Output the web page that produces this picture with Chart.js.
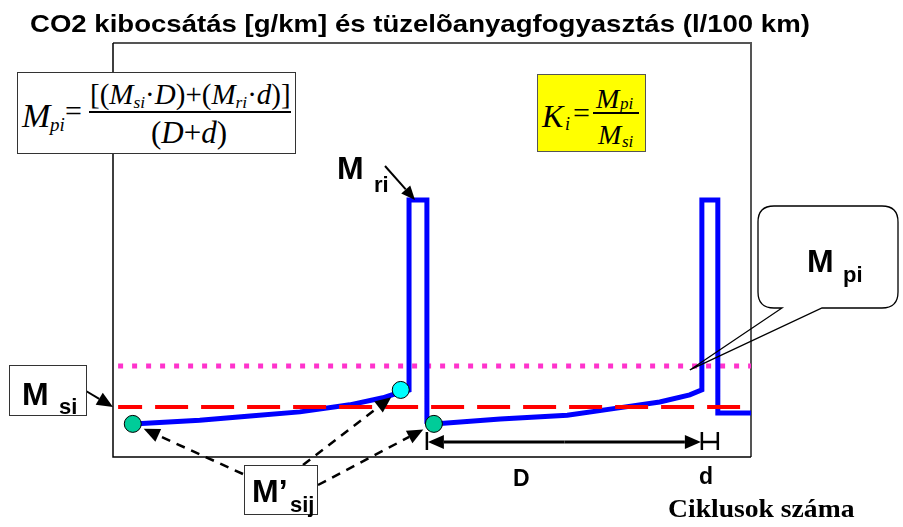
<!DOCTYPE html>
<html>
<head>
<meta charset="utf-8">
<script src="https://cdn.jsdelivr.net/npm/chart.js@4"></script>
<style>
    body { margin: 0; background: #fff; }
    #wrap { position: relative; width: 903px; height: 527px; overflow: hidden; }
    #c { position: absolute; left: 0; top: 0; }
    .t { position: absolute; line-height: 1; white-space: nowrap; color: #000; }
    .sans { font-family: "Liberation Sans", Arial, sans-serif; font-weight: bold; }
    .serif { font-family: "Liberation Serif", "Times New Roman", serif; }
    .box { position: absolute; background: #fff; border: 1.5px solid #333; box-sizing: border-box; }
    #title { left: 30px; top: 12px; font-size: 24px; transform-origin: left top; }
    #xlabel { left: 668px; top: 496px; font-size: 26px; font-weight: bold; transform-origin: left top; }
    #f1 { left: 17px; top: 72px; width: 279px; height: 82px; }
    #f2 { left: 537px; top: 74px; width: 109px; height: 78px; background: #ffff00; border-color: #555; }
    .bar { position: absolute; height: 1.5px; background: #000; }
    sub { font-size: 0.6em; vertical-align: -0.25em; }
</style>
</head>
<body>
<div id="wrap">
    <canvas id="c" width="903" height="527"></canvas>

    <div id="title" class="t sans">CO2 kibocsátás [g/km] és tüzelõanyagfogyasztás (l/100 km)</div>

    <!-- Formel M_pi -->
    <div id="f1" class="box">
        <div class="t serif" style="left:4px;top:26px;font-size:34px;"><i>M</i></div>
        <div class="t serif" style="left:32px;top:42px;font-size:19px;"><i>pi</i></div>
        <div class="t serif" style="left:47px;top:23px;font-size:30px;">=</div>
        <div class="t serif" style="left:72px;top:7px;font-size:29px;">[(<i>M</i><sub><i>si</i></sub>·<i>D</i>)+(<i>M</i><sub><i>ri</i></sub>·<i>d</i>)]</div>
        <div class="bar" style="left:71px;top:38px;width:202px;"></div>
        <div class="t serif" style="left:133px;top:44px;font-size:31px;">(<i>D</i>+<i>d</i>)</div>
    </div>

    <!-- Formel K_i -->
    <div id="f2" class="box">
        <div class="t serif" style="left:4px;top:25px;font-size:32px;"><i>K</i></div>
        <div class="t serif" style="left:27px;top:40px;font-size:18px;"><i>i</i></div>
        <div class="t serif" style="left:35px;top:23px;font-size:30px;">=</div>
        <div class="t serif" style="left:58px;top:10px;font-size:28px;"><i>M</i></div>
        <div class="t serif" style="left:82px;top:20px;font-size:17px;"><i>pi</i></div>
        <div class="bar" style="left:55px;top:37px;width:46px;"></div>
        <div class="t serif" style="left:60px;top:46px;font-size:28px;"><i>M</i></div>
        <div class="t serif" style="left:84px;top:58px;font-size:17px;"><i>si</i></div>
    </div>

    <!-- Beschriftungen -->
    <div class="box" style="left:9px;top:365px;width:78px;height:51px;"></div>
    <div class="t sans" style="left:22px;top:378px;font-size:32px;">M</div>
    <div class="t sans" style="left:59px;top:396px;font-size:22px;">si</div>

    <div class="t sans" style="left:337px;top:152px;font-size:32px;">M</div>
    <div class="t sans" style="left:374px;top:174px;font-size:22px;">ri</div>

    <div class="t sans" style="left:807px;top:245px;font-size:32px;">M</div>
    <div class="t sans" style="left:843px;top:264px;font-size:22px;">pi</div>

    <div class="box" style="left:244px;top:465px;width:74px;height:50px;"></div>
    <div class="t sans" style="left:252px;top:475px;font-size:32px;">M’</div>
    <div class="t sans" style="left:290px;top:494px;font-size:22px;">sij</div>

    <div class="t sans" style="left:513px;top:467px;font-size:23px;">D</div>
    <div class="t sans" style="left:699px;top:465px;font-size:23px;">d</div>
    <div id="xlabel" class="t serif">Ciklusok száma</div>
</div>

<script>
// Zyklen (x) und Emission (y), relative Einheiten 0..100
const blueX = [3.1, 13.6, 21.5, 29.3, 37.1, 42.3, 45.1, 46.4, 46.4, 49.2, 49.2, 50.3, 60.7, 71.2, 79.0, 85.7, 90.4, 92.3, 92.3, 94.8, 94.8, 100];
const blueY = [8.0, 8.9, 9.9, 10.9, 12.6, 14.3, 15.7, 16.2, 62.1, 62.1, 8.5, 8.0, 9.2, 10.1, 11.8, 13.3, 15.0, 16.2, 62.1, 62.1, 10.6, 10.6];

const levelStartX = 0.8;
const levelEndX = 100;
const msiLevel = 12.1;   // M si (rot gestrichelt)
const mpiLevel = 22.0;   // M pi (magenta gepunktet)

const dotX = [3.1, 45.1, 50.3];
const dotY = [8.0, 16.2, 8.0];
const dotColors = ['#00cc99', '#00ffff', '#00cc99'];

function pts(xs, ys) {
    return xs.map((x, i) => ({ x: x, y: ys[i] }));
}

function arrow(ctx, x1, y1, x2, y2, opt) {
    const o = Object.assign({ width: 2, head: 14, half: 6, dash: [] }, opt || {});
    const a = Math.atan2(y2 - y1, x2 - x1);
    const bx = x2 - o.head * Math.cos(a);
    const by = y2 - o.head * Math.sin(a);
    ctx.save();
    ctx.strokeStyle = '#000';
    ctx.fillStyle = '#000';
    ctx.lineWidth = o.width;
    ctx.setLineDash(o.dash);
    ctx.beginPath();
    ctx.moveTo(x1, y1);
    ctx.lineTo(bx, by);
    ctx.stroke();
    ctx.setLineDash([]);
    ctx.beginPath();
    ctx.moveTo(x2, y2);
    ctx.lineTo(bx + o.half * Math.sin(a), by - o.half * Math.cos(a));
    ctx.lineTo(bx - o.half * Math.sin(a), by + o.half * Math.cos(a));
    ctx.closePath();
    ctx.fill();
    ctx.restore();
}

// Rahmen um die Zeichenfläche
const framePlugin = {
    id: 'frame',
    beforeDatasetsDraw(chart) {
        const a = chart.chartArea;
        const ctx = chart.ctx;
        ctx.save();
        ctx.strokeStyle = '#555';
        ctx.lineWidth = 2;
        ctx.beginPath();
        ctx.moveTo(a.left, a.top);
        ctx.lineTo(a.right, a.top);
        ctx.lineTo(a.right, a.bottom);
        ctx.stroke();
        ctx.strokeStyle = '#000';
        ctx.lineWidth = 1.5;
        ctx.beginPath();
        ctx.moveTo(a.left, a.top);
        ctx.lineTo(a.left, a.bottom);
        ctx.lineTo(a.right, a.bottom);
        ctx.stroke();
        ctx.restore();
    }
};

// Pfeile, Maßlinien und Sprechblase
const notesPlugin = {
    id: 'notes',
    afterDraw(chart) {
        const ctx = chart.ctx;
        const xs = chart.scales.x;
        const ys = chart.scales.y;
        const px = v => xs.getPixelForValue(v);
        const py = v => ys.getPixelForValue(v);

        // M si -> Achse
        arrow(ctx, 86, 391, px(0), py(msiLevel), { width: 2, head: 16, half: 7 });
        // M ri -> Spitze
        arrow(ctx, 385, 166, px(blueX[8]) + 6, py(blueY[8]), { width: 2, head: 14, half: 6 });

        // M'sij -> Punkte
        const starts = [[243, 474], [303, 465], [318, 485]];
        dotX.forEach((dx, i) => {
            const cx = px(dx), cy = py(dotY[i]);
            const [sx, sy] = starts[i];
            const d = Math.hypot(sx - cx, sy - cy);
            const tx = cx + (sx - cx) / d * 12;
            const ty = cy + (sy - cy) / d * 12;
            arrow(ctx, sx, sy, tx, ty, { width: 2.5, head: 16, half: 7, dash: [9, 7] });
        });

        // Maßlinien D und d
        const yD = 442;
        const xa = px(blueX[10]), xb = px(blueX[17]), xc = px(blueX[19]);
        ctx.save();
        ctx.strokeStyle = '#000';
        ctx.lineWidth = 2.5;
        ctx.beginPath();
        [xa, xb, xc].forEach(x => { ctx.moveTo(x, yD - 10); ctx.lineTo(x, yD + 8); });
        ctx.moveTo(xb, yD);
        ctx.lineTo(xc, yD);
        ctx.stroke();
        ctx.restore();
        arrow(ctx, (xa + xb) / 2, yD, xa + 1, yD, { width: 3, head: 16, half: 7 });
        arrow(ctx, (xa + xb) / 2, yD, xb - 1, yD, { width: 3, head: 16, half: 7 });

        // Sprechblase M pi
        const L = 758, T = 206, R = 898, B = 308, r = 16;
        const tipX = px(blueX[17]) - 12, tipY = py(mpiLevel) + 4;
        ctx.save();
        ctx.beginPath();
        ctx.moveTo(L + r, T);
        ctx.lineTo(R - r, T);
        ctx.quadraticCurveTo(R, T, R, T + r);
        ctx.lineTo(R, B - r);
        ctx.quadraticCurveTo(R, B, R - r, B);
        ctx.lineTo(822, B);
        ctx.lineTo(tipX, tipY);
        ctx.lineTo(782, B);
        ctx.lineTo(L + r, B);
        ctx.quadraticCurveTo(L, B, L, B - r);
        ctx.lineTo(L, T + r);
        ctx.quadraticCurveTo(L, T, L + r, T);
        ctx.closePath();
        ctx.strokeStyle = '#000';
        ctx.lineWidth = 1.3;
        ctx.stroke();
        ctx.restore();
    }
};

const ctx = document.getElementById('c').getContext('2d');

new Chart(ctx, {
    type: 'scatter',
    data: {
        datasets: [
            {
                label: 'Messpunkte',
                data: pts(dotX, dotY),
                pointRadius: 8.5,
                pointBackgroundColor: dotColors,
                pointBorderColor: '#000',
                pointBorderWidth: 1,
                showLine: false,
                order: 0
            },
            {
                label: 'M si',
                data: pts([levelStartX, levelEndX], [msiLevel, msiLevel]),
                showLine: true,
                borderColor: '#ff0000',
                borderWidth: 4,
                borderDash: [33, 13],
                borderDashOffset: 9,
                pointRadius: 0,
                order: 1
            },
            {
                label: 'Emission',
                data: pts(blueX, blueY),
                showLine: true,
                borderColor: '#0000ff',
                borderWidth: 5,
                borderJoinStyle: 'miter',
                tension: 0,
                pointRadius: 0,
                order: 2
            },
            {
                label: 'M pi',
                data: pts([levelStartX, levelEndX], [mpiLevel, mpiLevel]),
                showLine: true,
                borderColor: '#ff33cc',
                borderWidth: 5,
                borderDash: [5, 9],
                pointRadius: 0,
                order: 3
            }
        ]
    },
    options: {
        responsive: false,
        animation: false,
        layout: { padding: { left: 113, right: 152, top: 43, bottom: 70 } },
        scales: {
            x: { type: 'linear', min: 0, max: 100, display: false },
            y: { type: 'linear', min: 0, max: 100, display: false }
        },
        plugins: {
            legend: { display: false },
            tooltip: { enabled: false }
        }
    },
    plugins: [framePlugin, notesPlugin]
});

// Texte auf die Breite im Original strecken
function fitWidth(id, w) {
    const el = document.getElementById(id);
    el.style.transform = 'scaleX(' + (w / el.offsetWidth) + ')';
}
fitWidth('title', 780);
fitWidth('xlabel', 187);
</script>
</body>
</html>
